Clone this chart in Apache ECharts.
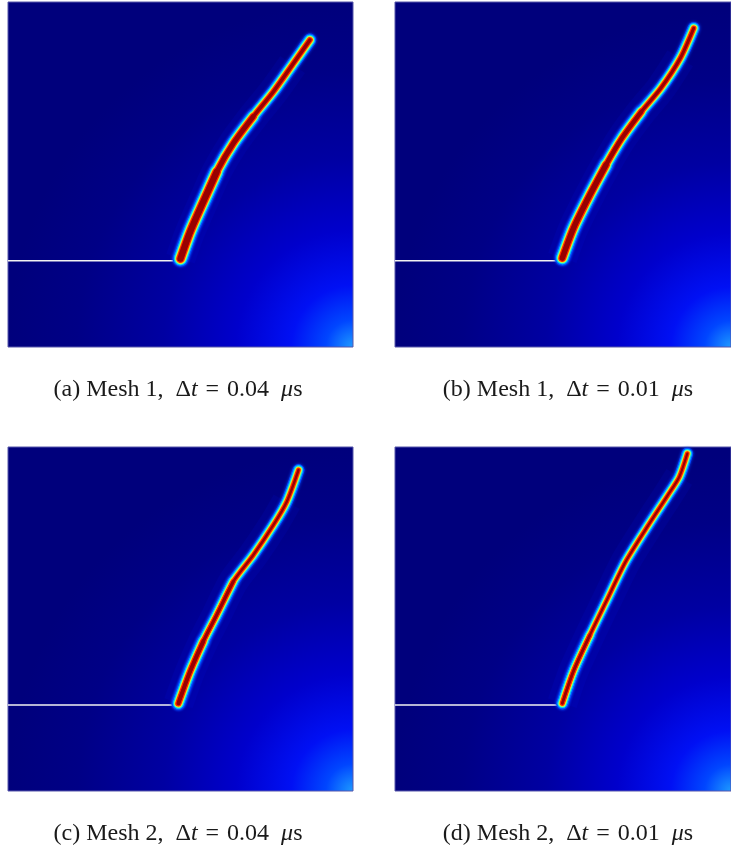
<!DOCTYPE html>
<html>
<head>
<meta charset="utf-8">
<title>Crack paths</title>
<script src="https://cdn.jsdelivr.net/npm/echarts@6/dist/echarts.min.js"></script>
<style>
  html, body { margin: 0; padding: 0; background: #ffffff; }
  #chart { width: 731px; height: 850px; }
</style>
</head>
<body>
<div id="chart"></div>
<script>
// Crack paths in specimen coordinates (mm, 100 x 100 domain, notch at y = 25)
const crackA = [[50.0, 25.6], [52.8, 33.4], [56.6, 42.1], [60.5, 50.8], [65.3, 59.0], [71.1, 66.8], [76.9, 74.0], [82.5, 81.9], [87.5, 89.0]];
const crackB = [[49.8, 25.8], [53.1, 34.4], [58.0, 44.1], [62.8, 52.8], [67.5, 60.5], [73.3, 68.2], [79.1, 75.0], [84.9, 83.7], [88.9, 92.4]];
const crackC = [[49.4, 25.5], [52.8, 34.8], [56.6, 43.5], [60.5, 51.2], [65.3, 60.9], [71.1, 68.6], [76.9, 77.3], [80.8, 84.1], [84.2, 93.3]];
const crackD = [[49.8, 25.5], [53.1, 34.8], [58.0, 45.3], [62.8, 55.0], [68.6, 66.6], [75.4, 77.3], [81.2, 86.0], [84.6, 91.3], [87.0, 98.1]];
const notch = [[0, 25], [50, 25]];

const captionTags = ['(a)', '(b)', '(c)', '(d)'];
const captionMesh = ['Mesh 1', 'Mesh 1', 'Mesh 2', 'Mesh 2'];
const captionDt = ['0.04', '0.01', '0.04', '0.01'];

const cracks = [crackA, crackB, crackC, crackD];

// panel layout (pixels)
const panels = [
  { left: 8,   top: 2,   width: 345, height: 345, cx: 178, cy: 390 },
  { left: 395, top: 2,   width: 345, height: 345, cx: 568, cy: 390 },
  { left: 8,   top: 447, width: 345, height: 344, cx: 178, cy: 834 },
  { left: 395, top: 447, width: 345, height: 344, cx: 568, cy: 834 }
];
// core stroke widths: each entry = [number of points from the notch, width]
const coreSteps = [
  [[9, 3.4], [6, 4.8], [4, 6.2]],
  [[9, 3.0], [6, 4.2], [4, 5.4]],
  [[9, 2.4], [5, 3.0], [3, 3.9]],
  [[9, 2.2], [3, 2.6]]
];
// jet-like bands around the crack, outermost first
const bands = [
  { extra: 9.5, color: '#0048ff', blur: 3 },
  { extra: 7,   color: '#00c4ff', blur: 1 },
  { extra: 5.2, color: '#6affa0', blur: 0 },
  { extra: 3.8, color: '#ffe400', blur: 0 },
  { extra: 2.4, color: '#ff2800', blur: 0 },
  { extra: 0,   color: '#980000', blur: 0 }
];

const fieldFill = {
  type: 'radial', x: 1, y: 1, r: 1,
  colorStops: [
    { offset: 0.00, color: '#1e9cff' },
    { offset: 0.08, color: '#0046ff' },
    { offset: 0.18, color: '#0010f4' },
    { offset: 0.34, color: '#0000cc' },
    { offset: 0.55, color: '#0000a2' },
    { offset: 0.80, color: '#000086' },
    { offset: 1.00, color: '#00007c' }
  ]
};

const grid = [], xAxis = [], yAxis = [], series = [], graphic = [];
const serif = '"Liberation Serif", "DejaVu Serif", serif';

panels.forEach((p, i) => {
  grid.push({
    left: p.left, top: p.top, width: p.width, height: p.height,
    show: true, backgroundColor: fieldFill,
    borderColor: '#5656aa', borderWidth: 1
  });
  xAxis.push({ type: 'value', gridIndex: i, min: 0, max: 100, show: false });
  yAxis.push({ type: 'value', gridIndex: i, min: 0, max: 100, show: false });

  const path = cracks[i];

  // faint stress halo around the crack
  series.push({
    type: 'line', xAxisIndex: i, yAxisIndex: i, data: path.slice(0, -1), smooth: 0.25,
    symbol: 'none', silent: true, z: 1,
    lineStyle: { width: 30, color: 'rgba(0, 24, 255, 0.09)', cap: 'butt', join: 'round' }
  });

  bands.forEach((b, k) => {
    coreSteps[i].forEach(([n, w]) => {
      series.push({
        type: 'line', xAxisIndex: i, yAxisIndex: i, data: path.slice(0, n), smooth: 0.25,
        symbol: 'none', silent: true, z: 3 + k,
        lineStyle: {
          width: w + b.extra, color: b.color, cap: 'round', join: 'round',
          shadowBlur: b.blur, shadowColor: b.color
        }
      });
    });
  });

  // initial notch
  series.push({
    type: 'line', xAxisIndex: i, yAxisIndex: i, data: notch,
    symbol: 'none', silent: true, z: 2,
    lineStyle: { width: 1.6, color: '#f2f2f2' }
  });

  graphic.push({
    type: 'text', x: p.cx, y: p.cy,
    style: {
      text: captionTags[i] + ' ' + captionMesh[i] + ',\u2002Δ{it|t}\u2004=\u2004' + captionDt[i] + '\u2002{it|μ}s',
      font: '24px ' + serif,
      fill: '#1a1a1a', align: 'center', verticalAlign: 'middle',
      rich: { it: { fontStyle: 'italic', fontSize: 24, fontFamily: serif, fill: '#1a1a1a' } }
    }
  });
});

const chart = echarts.init(document.getElementById('chart'), null, { renderer: 'canvas' });
chart.setOption({
  animation: false,
  backgroundColor: '#ffffff',
  grid, xAxis, yAxis, series, graphic
});
</script>
</body>
</html>
